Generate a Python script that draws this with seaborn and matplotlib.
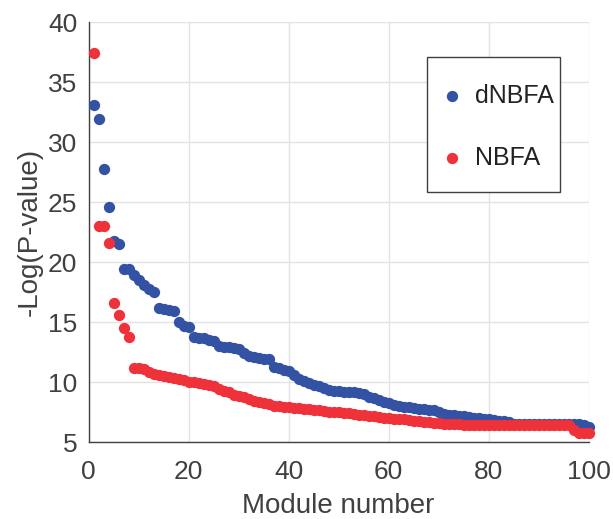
import matplotlib
matplotlib.use('Agg')
import numpy as np
import pandas as pd
import matplotlib.pyplot as plt
from matplotlib.patches import Rectangle
import seaborn as sns

# -Log(P-value) per module, sorted
dnbfa = [33.1, 31.9, 27.8, 24.6, 21.8, 21.5, 19.4, 19.4, 18.9, 18.5,
         18.1, 17.8, 17.5, 16.2, 16.1, 16.0, 15.9, 15.0, 14.7, 14.6,
         13.75, 13.7, 13.65, 13.55, 13.45, 13.0, 12.9, 12.9, 12.85, 12.8,
         12.4, 12.2, 12.1, 12.0, 11.95, 11.9, 11.3, 11.15, 11.05, 10.95,
         10.6, 10.3, 10.1, 9.9, 9.8, 9.7, 9.5, 9.35, 9.3, 9.25,
         9.2, 9.2, 9.15, 9.1, 9.0, 8.8, 8.65, 8.5, 8.35, 8.25,
         8.1, 8.0, 7.95, 7.9, 7.85, 7.8, 7.75, 7.7, 7.65, 7.5,
         7.35, 7.3, 7.25, 7.2, 7.15, 7.1, 7.05, 7.0, 6.95, 6.9,
         6.85, 6.8, 6.75, 6.7, 6.55, 6.5, 6.5, 6.5, 6.5, 6.5,
         6.5, 6.5, 6.55, 6.55, 6.55, 6.55, 6.55, 6.5, 6.4, 6.3]
nbfa = [37.4, 23.0, 23.0, 21.6, 16.6, 15.6, 14.5, 13.8, 11.15, 11.15,
        11.1, 10.85, 10.7, 10.6, 10.55, 10.45, 10.35, 10.25, 10.15, 10.05,
        10.0, 9.95, 9.85, 9.75, 9.65, 9.45, 9.3, 9.15, 8.95, 8.85,
        8.75, 8.6, 8.45, 8.35, 8.25, 8.15, 8.05, 8.0, 7.95, 7.9,
        7.85, 7.85, 7.8, 7.75, 7.7, 7.65, 7.6, 7.55, 7.55, 7.5,
        7.45, 7.4, 7.35, 7.3, 7.25, 7.2, 7.15, 7.1, 7.05, 7.0,
        6.95, 6.92, 6.9, 6.85, 6.8, 6.75, 6.7, 6.65, 6.6, 6.57,
        6.55, 6.52, 6.5, 6.48, 6.46, 6.44, 6.43, 6.42, 6.42, 6.42,
        6.42, 6.42, 6.42, 6.42, 6.42, 6.42, 6.42, 6.42, 6.42, 6.42,
        6.42, 6.42, 6.42, 6.42, 6.42, 6.42, 6.0, 5.8, 5.75, 5.75]
modules = np.arange(1, 101)

blue = '#3452a4'
red = '#ef3139'

sns.set_style('white')
plt.rcParams['font.family'] = ['Liberation Sans', 'DejaVu Sans']

fig = plt.figure(figsize=(6.13, 5.19), dpi=100)
ax = fig.add_axes([0.1445, 0.148, 0.816, 0.8095])

sns.scatterplot(x=modules, y=dnbfa, color=blue, s=66, linewidth=0,
                label='dNBFA', ax=ax, clip_on=False, zorder=3)
sns.scatterplot(x=modules, y=nbfa, color=red, s=66, linewidth=0,
                label='NBFA', ax=ax, clip_on=False, zorder=4)

ax.set_xlim(0, 100)
ax.set_ylim(5, 40)
ax.set_xticks([0, 20, 40, 60, 80, 100])
ax.set_yticks([5, 10, 15, 20, 25, 30, 35, 40])
ax.grid(True, color='#e3e3e3', linewidth=1)
ax.set_axisbelow(True)
sns.despine(ax=ax)
for side in ['left', 'bottom']:
    ax.spines[side].set_color('#404040')
    ax.spines[side].set_linewidth(1.0)
ax.tick_params(direction='in', length=4, width=1, color='#404040',
               labelsize=19, labelcolor='#404040')
ax.tick_params(axis='x', pad=13)
ax.tick_params(axis='y', pad=8)

ax.set_xlabel('Module number', fontsize=20, color='#404040', labelpad=6)
ax.set_ylabel('-Log(P-value)', fontsize=20, color='#404040', labelpad=4)

# square legend box (MATLAB style), entries placed inside it
ax.add_patch(Rectangle((0.6767, 0.5955), 0.266, 0.3212, transform=ax.transAxes,
                       facecolor='white', edgecolor='#404040', linewidth=1.0,
                       zorder=6, clip_on=False))
leg = ax.legend(loc='upper left', bbox_to_anchor=(0.677, 0.9003),
                fontsize=18, frameon=False,
                labelspacing=1.02, borderpad=0.5,
                handletextpad=0.42, handlelength=1.0, handleheight=1.9,
                scatteryoffsets=[0.2], borderaxespad=0)
leg.set_zorder(7)
for t in leg.get_texts():
    t.set_color('#222222')

fig.savefig('out.png', dpi=100)
